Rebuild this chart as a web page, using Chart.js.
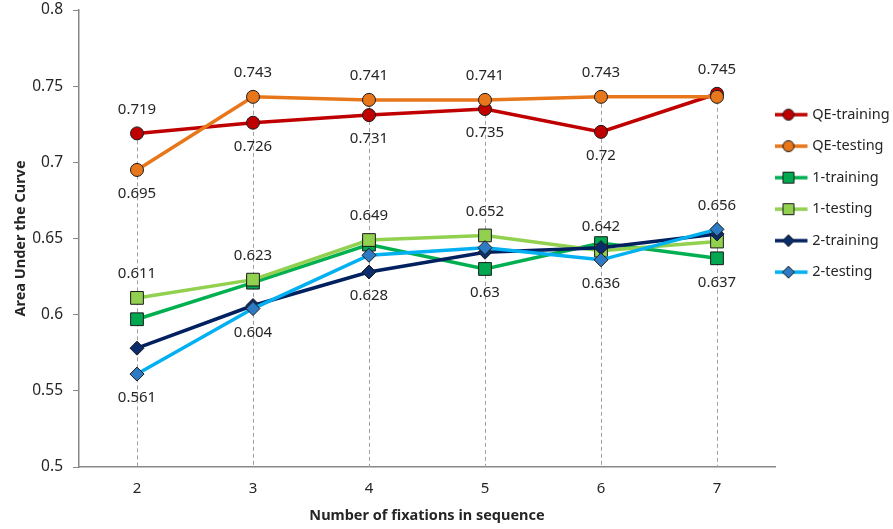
<!DOCTYPE html>
<html lang="en">
<head>
  <meta charset="UTF-8">
  <title>Area Under the Curve</title>
  <script src="https://cdn.jsdelivr.net/npm/chart.js"></script>
  <style>
    body {
      margin: 0;
      padding: 0;
      background: #fff;
    }
    #wrap {
      width: 893px;
      height: 529px;
    }
  </style>
</head>
<body>

<div id="wrap">
  <canvas id="aucChart" width="893" height="529"></canvas>
</div>

<script>
  const categories = ['2', '3', '4', '5', '6', '7'];
  const seriesNames = ['QE-training', 'QE-testing', '1-training', '1-testing', '2-training', '2-testing'];

  const qeTraining  = [0.719, 0.726, 0.731, 0.735, 0.72, 0.745];
  const qeTesting   = [0.695, 0.743, 0.741, 0.741, 0.743, 0.743];
  const oneTraining = [0.597, 0.621, 0.646, 0.63, 0.647, 0.637];
  const oneTesting  = [0.611, 0.623, 0.649, 0.652, 0.642, 0.648];
  const twoTraining = [0.578, 0.606, 0.628, 0.641, 0.644, 0.653];
  const twoTesting  = [0.561, 0.604, 0.639, 0.644, 0.636, 0.656];

  const yMin = 0.5;
  const yMax = 0.8;
  const yStep = 0.05;

  // which points carry a value label: 'a' above, 'b' below
  const labelSpots = [
    ['a', 'b', 'b', 'b', 'b', 'a'],
    ['b', 'a', 'a', 'a', 'a', ''],
    ['',  '',  '',  'b', '',  'b'],
    ['a', 'a', 'a', 'a', 'a', ''],
    ['',  '',  'b', '',  '',  ''],
    ['b', 'b', '',  '',  'b', 'a']
  ];

  const FONT = '"Noto Sans", "Liberation Sans", sans-serif';
  const TEXT = '#262626';

  const looks = [
    { line: '#C00000', fill: '#C00000', shape: 'circle',  r: 6.5 },
    { line: '#E8761A', fill: '#E8761A', shape: 'circle',  r: 6.5 },
    { line: '#00B050', fill: '#00A84F', shape: 'rect',    r: 9 },
    { line: '#92D050', fill: '#92D050', shape: 'rect',    r: 9 },
    { line: '#002060', fill: '#0B2D6B', shape: 'rectRot', r: 7 },
    { line: '#00B0F0', fill: '#2E7BC4', shape: 'rectRot', r: 7 }
  ];

  const allSeries = [qeTraining, qeTesting, oneTraining, oneTesting, twoTraining, twoTesting];

  // legend symbol: a line with the marker in the middle.
  // the canvas is wider than the legend box so the symbol sits left of it
  function legendSymbol(look) {
    const c = document.createElement('canvas');
    c.width = 58;
    c.height = 16;
    const g = c.getContext('2d');
    g.strokeStyle = look.line;
    g.lineWidth = 3.5;
    g.beginPath();
    g.moveTo(0, 8);
    g.lineTo(38, 8);
    g.stroke();
    g.fillStyle = look.fill;
    g.strokeStyle = '#1a1a1a';
    g.lineWidth = 1;
    g.beginPath();
    if (look.shape === 'circle') {
      g.arc(19, 8, 5.5, 0, Math.PI * 2);
    } else if (look.shape === 'rect') {
      g.rect(13.5, 2.5, 11, 11);
    } else {
      g.moveTo(19, 2); g.lineTo(25, 8); g.lineTo(19, 14); g.lineTo(13, 8); g.closePath();
    }
    g.fill();
    g.stroke();
    return c;
  }

  // dashed drop lines from the highest point in each category down to the axis
  const dropLines = {
    id: 'dropLines',
    beforeDatasetsDraw(chart) {
      const ctx = chart.ctx;
      const area = chart.chartArea;
      const y = chart.scales.y;
      const x = chart.scales.x;
      ctx.save();
      ctx.strokeStyle = '#A0A0A0';
      ctx.lineWidth = 1;
      ctx.setLineDash([4, 3]);
      categories.forEach((cat, i) => {
        const top = Math.max(...allSeries.map(s => s[i]));
        const px = Math.round(x.getPixelForValue(i)) + 0.5;
        ctx.beginPath();
        ctx.moveTo(px, y.getPixelForValue(top));
        ctx.lineTo(px, area.bottom);
        ctx.stroke();
      });
      ctx.restore();
    }
  };

  // value labels above / below chosen points
  const valueLabels = {
    id: 'valueLabels',
    afterDatasetsDraw(chart) {
      const ctx = chart.ctx;
      ctx.save();
      ctx.font = '15px ' + FONT;
      ctx.fillStyle = TEXT;
      ctx.textAlign = 'center';
      ctx.textBaseline = 'middle';
      chart.data.datasets.forEach((ds, d) => {
        const meta = chart.getDatasetMeta(d);
        labelSpots[d].forEach((spot, i) => {
          if (!spot) return;
          const pt = meta.data[i];
          const dy = spot === 'a' ? -24 : 24;
          ctx.fillText(String(ds.data[i]), pt.x, pt.y + dy);
        });
      });
      ctx.restore();
    }
  };

  const datasets = allSeries.map((values, i) => ({
    label: seriesNames[i],
    data: values,
    borderColor: looks[i].line,
    backgroundColor: looks[i].fill,
    pointBackgroundColor: looks[i].fill,
    pointBorderColor: '#1a1a1a',
    pointBorderWidth: 1,
    pointStyle: looks[i].shape,
    pointRadius: looks[i].r,
    pointHoverRadius: looks[i].r,
    borderWidth: 3.5,
    tension: 0,
    fill: false,
    order: allSeries.length - i
  }));

  new Chart(document.getElementById('aucChart'), {
    type: 'line',
    data: {
      labels: categories,
      datasets: datasets
    },
    options: {
      responsive: false,
      animation: false,
      layout: {
        padding: { top: 10, right: 0, left: 0, bottom: 2 }
      },
      plugins: {
        tooltip: { enabled: false },
        legend: {
          position: 'right',
          align: 'start',
          maxWidth: 118,
          title: {
            display: true,
            text: ' ',
            font: { size: 12, family: FONT },
            padding: { top: 66, bottom: 0 }
          },
          labels: {
            font: { size: 14.5, family: FONT },
            color: TEXT,
            padding: 17,
            usePointStyle: true,
            pointStyleWidth: 13,
            generateLabels(chart) {
              return chart.data.datasets.map((ds, i) => ({
                text: ds.label,
                pointStyle: legendSymbol(looks[i]),
                fontColor: TEXT,
                lineWidth: 0,
                strokeStyle: 'transparent',
                fillStyle: 'transparent',
                datasetIndex: i,
                hidden: false
              }));
            }
          }
        }
      },
      scales: {
        x: {
          offset: true,
          afterFit: scale => { scale.height = 60; },
          grid: { display: false, drawTicks: false },
          border: { color: '#888888', width: 1.5 },
          ticks: {
            color: TEXT,
            font: { size: 15, family: FONT, lineHeight: 1 },
            padding: 14
          },
          title: {
            display: true,
            text: 'Number of fixations in sequence',
            color: TEXT,
            font: { size: 14.5, weight: 'bold', family: FONT },
            padding: { top: 0, bottom: 2 }
          }
        },
        y: {
          min: yMin,
          max: yMax,
          afterFit: scale => {
            scale.width = 79;
            scale.paddingTop = 0;
            scale.paddingBottom = 0;
          },
          grid: { drawOnChartArea: false, drawTicks: true, tickLength: 6, color: '#888888' },
          border: { color: '#888888', width: 1.5 },
          ticks: {
            stepSize: yStep,
            color: TEXT,
            font: { size: 15.5, family: FONT },
            padding: 10,
            callback: v => String(parseFloat(v.toFixed(2)))
          },
          title: {
            display: true,
            text: 'Area Under the Curve',
            color: TEXT,
            font: { size: 14.5, weight: 'bold', family: FONT },
            padding: { top: 12, bottom: 0 }
          }
        }
      }
    },
    plugins: [dropLines, valueLabels]
  });
</script>

</body>
</html>
